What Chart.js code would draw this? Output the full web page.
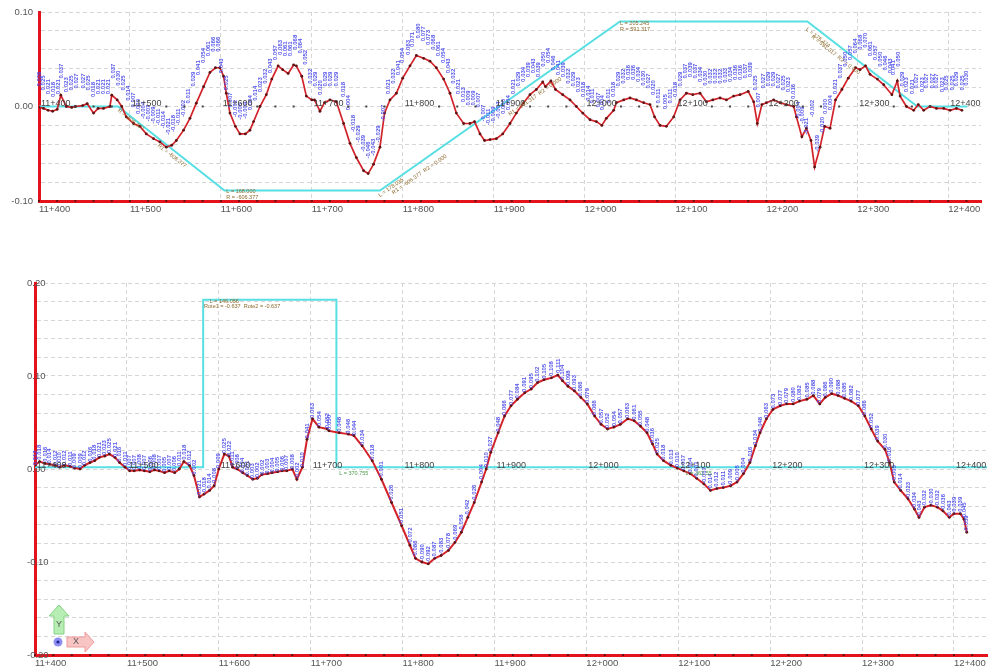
<!DOCTYPE html>
<html>
<head>
<meta charset="utf-8">
<script src="https://cdn.jsdelivr.net/npm/chart.js@4.4.1/dist/chart.umd.min.js"></script>
<style>
html, body { margin: 0; padding: 0; background: #fff; }
#wrap { position: relative; width: 991px; height: 670px; overflow: hidden; }
canvas { position: absolute; left: 0; }
#top { top: 0; }
#bottom { top: 270px; }
</style>
</head>
<body>
<div id="wrap">
  <canvas id="top" width="991" height="225"></canvas>
  <canvas id="bottom" width="991" height="400"></canvas>
</div>
<script>
// chainage ticks and axis labels
const chainTicks = [11400, 11500, 11600, 11700, 11800, 11900, 12000, 12100, 12200, 12300, 12400];
const topYLabels = [-0.10, -0.05, 0, 0.05, 0.10];
const bottomYLabels = [-0.20, -0.10, 0, 0.10, 0.20];

// top profile: design line (cyan), measured (red), value labels (blue)
const topDesign = [[11400, 0], [11487, 0], [11604, -0.089], [11775, -0.089], [12039, 0.090], [12245, 0.090], [12366, 0], [12421, 0]];

const topMeasured = [
  [11400, -0.001], [11405, -0.002], [11410, -0.004], [11415, -0.005], [11420, -0.003], [11424, 0.012], [11430, 0.000],
  [11436, -0.001], [11440, 0.000], [11448, 0.001], [11453, 0.003], [11460, -0.007], [11465, -0.002], [11471, -0.002],
  [11478, 0.000], [11480, 0.012], [11486, 0.007], [11491, 0.000], [11496, -0.011], [11504, -0.018], [11511, -0.021],
  [11518, -0.029], [11526, -0.034], [11533, -0.0375], [11540, -0.043], [11546, -0.041], [11551, -0.036], [11559, -0.025],
  [11566, -0.0125], [11573, 0.0035], [11581, 0.021], [11588, 0.036], [11594, 0.041], [11599, 0.041], [11603, 0.032],
  [11606, 0.014], [11610, -0.007], [11616, -0.021], [11621, -0.029], [11627, -0.029], [11632, -0.025], [11636, -0.016],
  [11643, 0.000], [11650, 0.0125], [11656, 0.029], [11663, 0.043], [11668, 0.039], [11674, 0.035], [11680, 0.044],
  [11683, 0.043], [11689, 0.032], [11694, 0.011], [11700, 0.007], [11703, 0.007], [11709, -0.005], [11714, 0.004],
  [11720, 0.007], [11727, 0.005], [11735, -0.018], [11742, -0.039], [11749, -0.054], [11757, -0.068], [11762, -0.071],
  [11768, -0.061], [11775, -0.043], [11780, -0.007], [11786, 0.007], [11793, 0.014], [11800, 0.030], [11808, 0.043],
  [11815, 0.054], [11823, 0.051], [11830, 0.048], [11837, 0.041], [11845, 0.029], [11852, 0.014], [11859, -0.007],
  [11867, -0.018], [11874, -0.018], [11879, -0.016], [11885, -0.029], [11890, -0.036], [11896, -0.035], [11903, -0.034],
  [11910, -0.029], [11918, -0.018], [11925, -0.007], [11933, 0.004], [11940, 0.0125], [11947, 0.018], [11954, 0.026],
  [11957, 0.021], [11963, 0.027], [11968, 0.018], [11976, 0.0125], [11984, 0.007], [11991, 0.000], [11998, -0.007],
  [12006, -0.014], [12013, -0.016], [12019, -0.020], [12024, -0.0125], [12032, -0.004], [12035, 0.004], [12043, 0.007],
  [12050, 0.009], [12057, 0.007], [12065, 0.004], [12072, 0.002], [12077, -0.011], [12083, -0.020], [12090, -0.021],
  [12098, -0.011], [12105, 0.007], [12112, 0.014], [12119, 0.0125], [12127, 0.014], [12134, 0.005], [12141, 0.007],
  [12149, 0.009], [12156, 0.007], [12164, 0.011], [12171, 0.0125], [12180, 0.016], [12186, 0.005], [12190, -0.018],
  [12195, 0.002], [12200, 0.004], [12208, 0.007], [12215, 0.004], [12222, 0.002], [12230, 0.000], [12233, -0.011],
  [12239, -0.032], [12244, -0.023], [12249, -0.036], [12253, -0.064], [12259, -0.043], [12264, -0.021], [12270, -0.023],
  [12276, 0.007], [12283, 0.018], [12290, 0.030], [12298, 0.041], [12303, 0.039], [12309, 0.043], [12314, 0.034],
  [12322, 0.029], [12329, 0.023], [12338, 0.0125], [12344, 0.027], [12347, 0.011], [12354, 0.000], [12362, -0.004],
  [12367, 0.002], [12373, -0.004], [12380, 0.000], [12387, -0.002], [12395, -0.002], [12402, -0.004], [12409, -0.002],
  [12415, -0.004]
];

const topValues = [
  [11400, 0.029], [11405, 0.025], [11410, 0.021], [11416, 0.018], [11421, 0.021], [11425, 0.0375], [11430, 0.023],
  [11436, 0.025], [11441, 0.027], [11449, 0.027], [11454, 0.025], [11460, 0.018], [11465, 0.021], [11471, 0.021],
  [11476, 0.021], [11482, 0.0375], [11487, 0.030], [11493, 0.025], [11498, 0.014], [11504, 0.007], [11509, 0.000],
  [11515, -0.004], [11520, -0.007], [11526, -0.009], [11531, -0.011], [11537, -0.014], [11542, -0.021], [11548, -0.018],
  [11553, -0.011], [11559, -0.002], [11564, 0.011], [11570, 0.029], [11575, 0.041], [11581, 0.054], [11586, 0.061],
  [11592, 0.066], [11597, 0.066], [11601, 0.043], [11606, 0.025], [11610, 0.007], [11616, -0.002], [11621, -0.005],
  [11627, -0.004], [11632, 0.004], [11638, 0.014], [11643, 0.023], [11649, 0.032], [11654, 0.043], [11660, 0.057],
  [11665, 0.0625], [11671, 0.061], [11676, 0.061], [11682, 0.068], [11687, 0.064], [11693, 0.052], [11698, 0.032],
  [11704, 0.029], [11709, 0.020], [11715, 0.029], [11720, 0.029], [11727, 0.029], [11735, 0.018], [11740, 0.004],
  [11746, -0.018], [11751, -0.029], [11757, -0.039], [11762, -0.046], [11768, -0.043], [11773, -0.029], [11779, -0.007],
  [11784, 0.021], [11790, 0.032], [11795, 0.041], [11800, 0.054], [11806, 0.0625], [11811, 0.071], [11817, 0.080],
  [11823, 0.077], [11828, 0.073], [11834, 0.068], [11839, 0.061], [11845, 0.054], [11850, 0.043], [11856, 0.032],
  [11861, 0.021], [11867, 0.0125], [11872, 0.009], [11878, 0.009], [11883, 0.007], [11889, -0.007], [11894, -0.011],
  [11900, -0.009], [11905, -0.004], [11911, 0.000], [11916, 0.004], [11922, 0.021], [11927, 0.029], [11933, 0.034],
  [11938, 0.039], [11944, 0.043], [11949, 0.039], [11955, 0.050], [11960, 0.054], [11966, 0.046], [11971, 0.041],
  [11977, 0.039], [11982, 0.032], [11988, 0.029], [11993, 0.023], [11999, 0.018], [12004, 0.014], [12009, 0.011],
  [12015, 0.007], [12020, 0.004], [12026, 0.011], [12032, 0.018], [12037, 0.029], [12043, 0.032], [12048, 0.036],
  [12054, 0.036], [12059, 0.034], [12065, 0.030], [12070, 0.027], [12076, 0.020], [12081, 0.011], [12089, 0.005],
  [12094, 0.011], [12100, 0.018], [12105, 0.029], [12111, 0.0375], [12116, 0.039], [12122, 0.0375], [12127, 0.034],
  [12133, 0.030], [12138, 0.032], [12144, 0.032], [12149, 0.032], [12155, 0.033], [12160, 0.034], [12166, 0.036],
  [12171, 0.036], [12177, 0.0375], [12182, 0.039], [12188, 0.025], [12191, 0.007], [12197, 0.027], [12202, 0.029],
  [12208, 0.029], [12213, 0.027], [12219, 0.025], [12224, 0.023], [12230, 0.016], [12235, -0.004], [12239, -0.009],
  [12244, -0.021], [12250, -0.002], [12256, -0.039], [12261, -0.020], [12265, 0.000], [12270, 0.004], [12276, 0.021],
  [12281, 0.0375], [12287, 0.050], [12292, 0.057], [12298, 0.064], [12303, 0.068], [12309, 0.070], [12314, 0.061],
  [12320, 0.057], [12325, 0.050], [12331, 0.046], [12336, 0.043], [12340, 0.041], [12345, 0.050], [12349, 0.029],
  [12354, 0.023], [12360, 0.021], [12365, 0.027], [12371, 0.023], [12376, 0.027], [12382, 0.027], [12387, 0.027],
  [12393, 0.023], [12398, 0.025], [12404, 0.025], [12409, 0.029], [12415, 0.025], [12420, 0.030]
];

// bottom profile
const bottomDesign = [[11400, 0.002], [11583, 0.002], [11583, 0.182], [11728, 0.182], [11728, 0.002], [12436, 0.002]];

const bottomMeasured = [
  [11400, 0.004], [11405, 0.008], [11411, 0.006], [11416, 0.005], [11422, 0.004], [11427, 0.002], [11432, 0.004],
  [11438, 0.003], [11443, 0.001], [11449, 0.000], [11454, 0.004], [11460, 0.007], [11465, 0.009], [11470, 0.0125],
  [11476, 0.014], [11481, 0.016], [11487, 0.0125], [11492, 0.007], [11498, 0.002], [11503, -0.002], [11508, -0.002],
  [11514, -0.001], [11519, -0.002], [11525, -0.003], [11530, -0.001], [11535, -0.002], [11541, -0.004], [11546, -0.002],
  [11552, -0.004], [11557, 0.000], [11562, 0.008], [11568, 0.004], [11573, -0.007], [11579, -0.030], [11584, -0.027],
  [11590, -0.023], [11595, -0.018], [11600, 0.000], [11606, 0.016], [11611, 0.014], [11615, 0.002], [11620, 0.000],
  [11626, -0.004], [11631, -0.007], [11637, -0.011], [11642, -0.010], [11647, -0.006], [11653, -0.005], [11658, -0.004],
  [11664, -0.003], [11669, -0.002], [11674, -0.002], [11680, 0.000], [11685, -0.011], [11691, 0.002], [11696, 0.032],
  [11702, 0.054], [11709, 0.045], [11718, 0.043], [11720, 0.041], [11731, 0.039], [11741, 0.0375], [11747, 0.036],
  [11756, 0.025], [11767, 0.009], [11777, -0.011], [11788, -0.036], [11799, -0.061], [11808, -0.082], [11814, -0.096],
  [11821, -0.100], [11828, -0.102], [11835, -0.096], [11842, -0.093], [11850, -0.0875], [11857, -0.079], [11864, -0.068],
  [11871, -0.052], [11878, -0.036], [11886, -0.014], [11891, 0.000], [11896, 0.018], [11904, 0.039], [11911, 0.057],
  [11918, 0.068], [11925, 0.075], [11933, 0.082], [11940, 0.086], [11947, 0.093], [11954, 0.096], [11962, 0.098],
  [11969, 0.101], [11974, 0.095], [11980, 0.089], [11987, 0.084], [11994, 0.077], [12001, 0.070], [12009, 0.057],
  [12016, 0.048], [12023, 0.043], [12030, 0.045], [12037, 0.048], [12045, 0.054], [12052, 0.052], [12059, 0.046],
  [12066, 0.039], [12072, 0.027], [12077, 0.016], [12084, 0.009], [12092, 0.004], [12099, 0.001], [12106, -0.002],
  [12113, -0.005], [12120, -0.010], [12128, -0.016], [12135, -0.023], [12142, -0.021], [12149, -0.020], [12157, -0.018],
  [12164, -0.014], [12171, -0.005], [12178, 0.007], [12184, 0.025], [12189, 0.039], [12196, 0.054], [12203, 0.064],
  [12211, 0.068], [12218, 0.070], [12225, 0.070], [12232, 0.073], [12240, 0.075], [12247, 0.079], [12254, 0.070],
  [12260, 0.077], [12267, 0.081], [12274, 0.079], [12281, 0.076], [12288, 0.073], [12296, 0.068], [12303, 0.057],
  [12310, 0.043], [12317, 0.030], [12325, 0.021], [12330, 0.007], [12335, -0.014], [12342, -0.023], [12350, -0.032],
  [12357, -0.043], [12362, -0.052], [12368, -0.041], [12375, -0.039], [12382, -0.041], [12388, -0.045], [12395, -0.052],
  [12400, -0.048], [12407, -0.048], [12411, -0.054], [12414, -0.068]
];

const bottomValues = [
  [11400, 0.012], [11405, 0.018], [11411, 0.016], [11416, 0.014], [11422, 0.012], [11427, 0.010], [11432, 0.012],
  [11438, 0.011], [11443, 0.009], [11449, 0.009], [11454, 0.012], [11460, 0.016], [11465, 0.018], [11470, 0.021],
  [11476, 0.023], [11481, 0.025], [11487, 0.021], [11492, 0.016], [11498, 0.011], [11503, 0.007], [11508, 0.007],
  [11514, 0.008], [11519, 0.007], [11525, 0.006], [11530, 0.008], [11535, 0.007], [11541, 0.005], [11546, 0.007],
  [11552, 0.006], [11557, 0.011], [11562, 0.018], [11568, 0.012], [11573, 0.002], [11579, -0.021], [11584, -0.018],
  [11590, -0.014], [11595, -0.008], [11600, 0.009], [11606, 0.025], [11611, 0.022], [11615, 0.011], [11620, 0.008],
  [11626, 0.004], [11631, 0.001], [11637, -0.003], [11642, -0.002], [11647, 0.002], [11653, 0.003], [11658, 0.004],
  [11664, 0.005], [11669, 0.006], [11674, 0.007], [11680, 0.008], [11685, -0.002], [11691, 0.010], [11696, 0.041],
  [11702, 0.063], [11709, 0.054], [11718, 0.052], [11720, 0.050], [11731, 0.048], [11741, 0.046], [11747, 0.044],
  [11756, 0.034], [11767, 0.018], [11777, -0.001], [11788, -0.026], [11799, -0.051], [11808, -0.072], [11814, -0.086],
  [11821, -0.090], [11828, -0.092], [11835, -0.087], [11842, -0.083], [11850, -0.078], [11857, -0.069], [11864, -0.058],
  [11871, -0.042], [11878, -0.026], [11886, -0.004], [11891, 0.010], [11896, 0.027], [11904, 0.048], [11911, 0.066],
  [11918, 0.077], [11925, 0.084], [11933, 0.091], [11940, 0.095], [11947, 0.102], [11954, 0.105], [11962, 0.108],
  [11969, 0.111], [11974, 0.104], [11980, 0.098], [11987, 0.093], [11994, 0.086], [12001, 0.079], [12009, 0.066],
  [12016, 0.057], [12023, 0.052], [12030, 0.054], [12037, 0.057], [12045, 0.063], [12052, 0.061], [12059, 0.055],
  [12066, 0.048], [12072, 0.036], [12077, 0.025], [12084, 0.018], [12092, 0.013], [12099, 0.010], [12106, 0.007],
  [12113, 0.004], [12120, -0.001], [12128, -0.007], [12135, -0.014], [12142, -0.012], [12149, -0.011], [12157, -0.009],
  [12164, -0.005], [12171, 0.004], [12178, 0.016], [12184, 0.034], [12189, 0.048], [12196, 0.063], [12203, 0.073],
  [12211, 0.077], [12218, 0.079], [12225, 0.080], [12232, 0.082], [12240, 0.085], [12247, 0.088], [12254, 0.079],
  [12260, 0.086], [12267, 0.090], [12274, 0.088], [12281, 0.085], [12288, 0.082], [12296, 0.077], [12303, 0.066],
  [12310, 0.052], [12317, 0.039], [12325, 0.030], [12330, 0.016], [12335, -0.005], [12342, -0.014], [12350, -0.023],
  [12357, -0.034], [12362, -0.043], [12368, -0.032], [12375, -0.030], [12382, -0.032], [12388, -0.036], [12395, -0.043],
  [12400, -0.039], [12407, -0.039], [12411, -0.045], [12414, -0.059]
];

// small curve-element notes printed on the profiles
const topNotes = [
  { x: 11486, y: -0.005, rot: 38, text: 'R = -606.377' },
  { x: 11530, y: -0.042, rot: 38, text: 'R1 = -606.377' },
  { x: 11606, y: -0.0915, rot: 0, text: 'L = 168.000' },
  { x: 11606, y: -0.098, rot: 0, text: 'R = -606.377' },
  { x: 11775, y: -0.096, rot: -35, text: 'L = 178.035' },
  { x: 11790, y: -0.093, rot: -35, text: 'R1 = -606.377  R2 = 0.000' },
  { x: 11918, y: -0.010, rot: -35, text: 'R1 = 591.317  R2 = 0.000' },
  { x: 12039, y: 0.086, rot: 0, text: 'L = 205.245' },
  { x: 12039, y: 0.080, rot: 0, text: 'R = 591.317' },
  { x: 12243, y: 0.081, rot: 38, text: 'L = 176.474' },
  { x: 12249, y: 0.073, rot: 38, text: 'R = 591.317  R2 = 0.000' }
];
const bottomNotes = [
  { x: 11590, y: 0.179, rot: 0, text: 'L = 146.056' },
  { x: 11584, y: 0.173, rot: 0, text: 'Rote1 = -0.637  Rote2 = -0.637' },
  { x: 11731, y: -0.006, rot: 0, text: 'L = 370.755', color: '#4f9a4f' },
  { x: 12108, y: -0.006, rot: 0, text: 'L = 362.55', color: '#4f9a4f' }
];

const FONT = '"Liberation Sans", Arial, sans-serif';
const AXIS_RED = '#e3121b';

function fmtChain(v) {
  return Math.floor(v / 1000) + '+' + String(Math.round(v % 1000)).padStart(3, '0');
}
function toXY(arr) {
  return arr.map(p => ({ x: p[0], y: p[1] }));
}

// blue value labels, written vertically at each point
const valueText = {
  id: 'valueText',
  afterDatasetsDraw(chart) {
    const ctx = chart.ctx;
    chart.data.datasets.forEach((ds, i) => {
      if (!ds.valueText) return;
      const meta = chart.getDatasetMeta(i);
      ctx.save();
      ctx.fillStyle = 'rgba(72,72,232,0.92)';
      ctx.font = 'bold 6px ' + FONT;
      ctx.textAlign = 'center';
      ctx.textBaseline = 'middle';
      meta.data.forEach((pt, j) => {
        ctx.save();
        ctx.translate(pt.x, pt.y);
        ctx.rotate(-Math.PI / 2);
        ctx.fillText(ds.data[j].y.toFixed(3), 0, 0);
        ctx.restore();
      });
      ctx.restore();
    });
  }
};

// chainage marks on the zero line, ticks on the base line, notes, axis icon
const overlay = {
  id: 'overlay',
  afterDraw(chart, args, opts) {
    const ctx = chart.ctx;
    const xs = chart.scales.x, ys = chart.scales.y;
    const area = chart.chartArea;
    const y0 = ys.getPixelForValue(0);
    ctx.save();
    ctx.font = '9px ' + FONT;
    ctx.fillStyle = '#444';
    ctx.textAlign = 'left';
    ctx.textBaseline = 'middle';
    chainTicks.forEach(c => {
      ctx.fillText(fmtChain(c), xs.getPixelForValue(c) + 2, y0 - 3);
      if (opts.dots) {
        [40, 60, 80].forEach(d => {
          const px = xs.getPixelForValue(c + d);
          if (px < area.right) ctx.fillRect(px - 1, y0 - 1, 2, 2);
        });
      }
    });
    ctx.fillStyle = '#6a1010';
    for (let c = 11400; c <= 12436; c += 20) {
      const px = xs.getPixelForValue(c);
      ctx.fillRect(px - 1, area.bottom - 1, 2, 2);
    }
    (opts.notes || []).forEach(n => {
      ctx.save();
      ctx.translate(xs.getPixelForValue(n.x), ys.getPixelForValue(n.y));
      ctx.rotate(n.rot * Math.PI / 180);
      ctx.font = '5.5px ' + FONT;
      ctx.fillStyle = n.color || '#8d6a2c';
      ctx.textBaseline = 'alphabetic';
      ctx.fillText(n.text, 0, 0);
      ctx.restore();
    });
    if (opts.icon) {
      const x0 = area.left, b = area.bottom;
      // Y arrow
      ctx.fillStyle = '#b6eeb4';
      ctx.strokeStyle = '#86d184';
      ctx.lineWidth = 1;
      ctx.beginPath();
      ctx.moveTo(x0 + 19, b - 21); ctx.lineTo(x0 + 19, b - 39); ctx.lineTo(x0 + 14, b - 39);
      ctx.lineTo(x0 + 24, b - 50); ctx.lineTo(x0 + 34, b - 39); ctx.lineTo(x0 + 29, b - 39);
      ctx.lineTo(x0 + 29, b - 21); ctx.closePath();
      ctx.fill(); ctx.stroke();
      // X arrow
      ctx.fillStyle = '#f8c4c4';
      ctx.strokeStyle = '#ef9a9a';
      ctx.beginPath();
      ctx.moveTo(x0 + 32, b - 18); ctx.lineTo(x0 + 50, b - 18); ctx.lineTo(x0 + 50, b - 23);
      ctx.lineTo(x0 + 59, b - 13); ctx.lineTo(x0 + 50, b - 3); ctx.lineTo(x0 + 50, b - 8);
      ctx.lineTo(x0 + 32, b - 8); ctx.closePath();
      ctx.fill(); ctx.stroke();
      // origin
      ctx.fillStyle = '#8f8ff0';
      ctx.beginPath(); ctx.arc(x0 + 23, b - 13, 4.5, 0, Math.PI * 2); ctx.fill();
      ctx.fillStyle = '#2222a0';
      ctx.beginPath(); ctx.arc(x0 + 23, b - 13, 1.6, 0, Math.PI * 2); ctx.fill();
      ctx.fillStyle = '#555';
      ctx.font = '9px ' + FONT;
      ctx.textAlign = 'center';
      ctx.fillText('Y', x0 + 24, b - 30);
      ctx.fillText('X', x0 + 41, b - 13);
    }
    ctx.restore();
  }
};

function xScale(max, height) {
  return {
    type: 'linear', min: 11400, max: max,
    afterBuildTicks: s => { s.ticks = chainTicks.map(v => ({ value: v })); },
    afterFit: s => { s.height = height; },
    ticks: {
      callback: v => fmtChain(v), align: 'start', padding: 3, maxRotation: 0, autoSkip: false,
      color: '#555', font: { family: FONT, size: 9.5 }
    },
    grid: { color: '#d6d6d6', lineWidth: 1, drawTicks: false },
    border: { color: AXIS_RED, width: 3, dash: [4, 3] }
  };
}

function yScale(min, max, step, labels, width, mirror, pad) {
  const grid = [];
  for (let v = min; v <= max + 1e-9; v += step) grid.push(+v.toFixed(3));
  return {
    type: 'linear', min: min, max: max,
    afterBuildTicks: s => { s.ticks = grid.map(v => ({ value: v })); },
    afterFit: s => { s.width = width; },
    ticks: {
      callback: v => labels.some(l => Math.abs(l - v) < 1e-6) ? v.toFixed(2) : '',
      mirror: mirror, padding: pad, color: '#555', font: { family: FONT, size: 9.5 }
    },
    grid: { color: '#d6d6d6', lineWidth: 1, drawTicks: false },
    border: { color: AXIS_RED, width: 3, dash: [4, 3] }
  };
}

function datasets(design, measured, values, lineW) {
  return [
    { data: toXY(design), borderColor: '#58dfe3', borderWidth: 2, pointRadius: 0, tension: 0, order: 3 },
    { data: toXY(measured), borderColor: '#d2232a', borderWidth: lineW, pointRadius: 1.4,
      pointBackgroundColor: '#5e1414', pointBorderWidth: 0, tension: 0, order: 2 },
    { data: toXY(values), showLine: false, pointRadius: 0, valueText: true, order: 1 }
  ];
}

Chart.register(valueText, overlay);

new Chart(document.getElementById('top'), {
  type: 'line',
  data: { datasets: datasets(topDesign, topMeasured, topValues, 1.7) },
  options: {
    responsive: false, animation: false,
    layout: { padding: { top: 12, right: 10, left: 0, bottom: 0 } },
    plugins: { legend: { display: false }, tooltip: { enabled: false },
      overlay: { dots: true, notes: topNotes, icon: false } },
    scales: {
      x: xScale(12436, 24),
      y: yScale(-0.10, 0.10, 0.01, topYLabels, 39, false, 6)
    }
  }
});

new Chart(document.getElementById('bottom'), {
  type: 'line',
  data: { datasets: datasets(bottomDesign, bottomMeasured, bottomValues, 2) },
  options: {
    responsive: false, animation: false,
    layout: { padding: { top: 13, right: 0, left: 0, bottom: 0 } },
    plugins: { legend: { display: false }, tooltip: { enabled: false },
      overlay: { dots: false, notes: bottomNotes, icon: true } },
    scales: {
      x: xScale(12436, 15),
      y: yScale(-0.20, 0.20, 0.02, bottomYLabels, 35, true, -8)
    }
  }
});
</script>
</body>
</html>
